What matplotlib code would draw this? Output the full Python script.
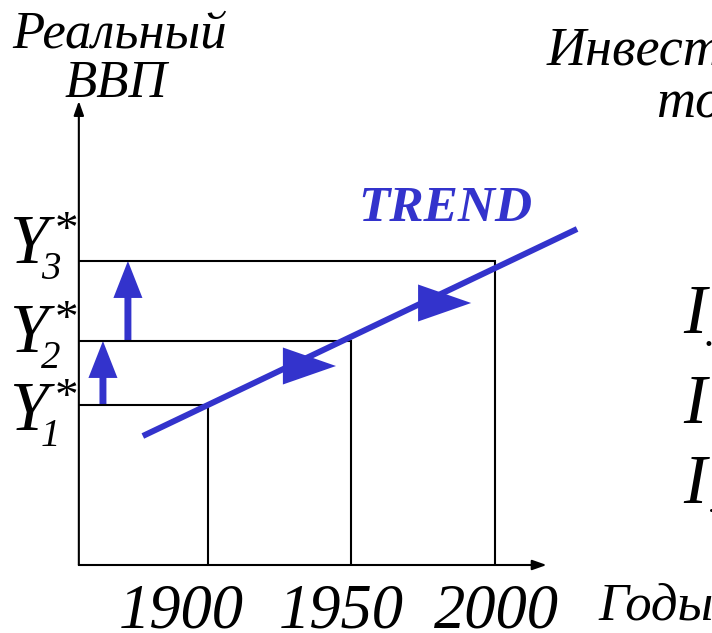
import matplotlib
matplotlib.use('Agg')
import matplotlib.pyplot as plt
from matplotlib.patches import FancyArrowPatch

W, H, DPI = 712, 633, 100

# ---- data ----
years = [1900, 1950, 2000]
year_labels = ['1900', '1950', '2000']
potential = [1.60, 2.24, 3.04]          # Y1*, Y2*, Y3*
potential_labels = ['1', '2', '3']
trend_years = [1877.3, 2028.6]
trend_values = [1.29, 3.36]
trend_arrow_years = [1926.1, 1973.2]
trend_arrow_values = [1.99, 2.62]
shift_arrow_years = [1863.4, 1872.1]
axis_origin_year = 1855.0
axis_end_year = 2018.0
axis_top_value = 4.64

BLUE = '#3333CC'
SERIF = 'Liberation Serif'

fig = plt.figure(figsize=(W / DPI, H / DPI), dpi=DPI)
ax = fig.add_axes([0, 0, 1, 1])
ax.set_xlim(1827.53, 1827.53 + W / 2.87)
ax.set_ylim(5.65 - H / 100, 5.65)
ax.axis('off')

# guide boxes
for yr, lv in zip(years, potential):
    ax.plot([axis_origin_year, yr, yr], [lv, lv, 0], color='black', lw=1.5,
            solid_joinstyle='miter', solid_capstyle='butt')

# axes with arrow heads
ax_arrow = dict(arrowstyle='-|>,head_length=0.85,head_width=0.3', lw=1.5,
                color='black', shrinkA=0, shrinkB=0, mutation_scale=10)
ax.annotate('', xy=(axis_end_year, 0), xytext=(axis_origin_year, 0), arrowprops=ax_arrow)
ax.annotate('', xy=(axis_origin_year, axis_top_value), xytext=(axis_origin_year, 0),
            arrowprops=ax_arrow)

# trend line
ax.plot(trend_years, trend_values, color=BLUE, lw=4.3, solid_capstyle='butt')

# direction triangles on the trend
TRI_LEN = 18.5
TRI_HALF = 0.185
for x0, y0 in zip(trend_arrow_years, trend_arrow_values):
    ax.fill([x0, x0, x0 + TRI_LEN], [y0 - TRI_HALF, y0 + TRI_HALF, y0], color=BLUE, lw=0)

# shift arrows between potential levels
for i, xa in enumerate(shift_arrow_years):
    arr = FancyArrowPatch((xa, potential[i]), (xa, potential[i + 1]),
                          arrowstyle='simple,head_length=26.6,head_width=20.9,tail_width=5',
                          mutation_scale=1, color=BLUE, shrinkA=0, shrinkB=0, lw=0)
    ax.add_patch(arr)


def ptext(x, y, s, **kw):
    kw.setdefault('family', SERIF)
    kw.setdefault('style', 'italic')
    kw.setdefault('va', 'baseline')
    fig.text(x / W, 1 - y / H, s, **kw)


# axis titles
ptext(120, 47, 'Реальный', size=38, ha='center')
ptext(116, 97, 'ВВП', size=38, ha='center')
ptext(598, 619, 'Годы', size=38, ha='left')

# year labels
for xc, lab in zip([181, 341, 496], year_labels):
    ptext(xc, 627, lab, size=45, ha='center')

# Y* labels
y_base = [430, 352, 263]
for yb, sub in zip(y_base, potential_labels):
    ptext(9, yb, 'Y', size=50, ha='left')
    ptext(41, yb + 16, sub, size=28, ha='left')
    ptext(55, yb - 52, '*', size=34, ha='left', style='normal', va='top')

# TREND label
ptext(358, 221, 'TREND', size=37, ha='left', weight='bold', color=BLUE)

# clipped text at right
ptext(547, 65, 'Инвестиции', size=39, ha='left')
ptext(656, 117, 'тор', size=39, ha='left')
for yb in [333, 423, 503]:
    ptext(683, yb, 'I', size=50, ha='left')
ptext(702, 358, '·', size=30, ha='left', style='normal')
ptext(707, 520, '·', size=20, ha='left', style='normal')

fig.savefig('out.png', dpi=DPI)
